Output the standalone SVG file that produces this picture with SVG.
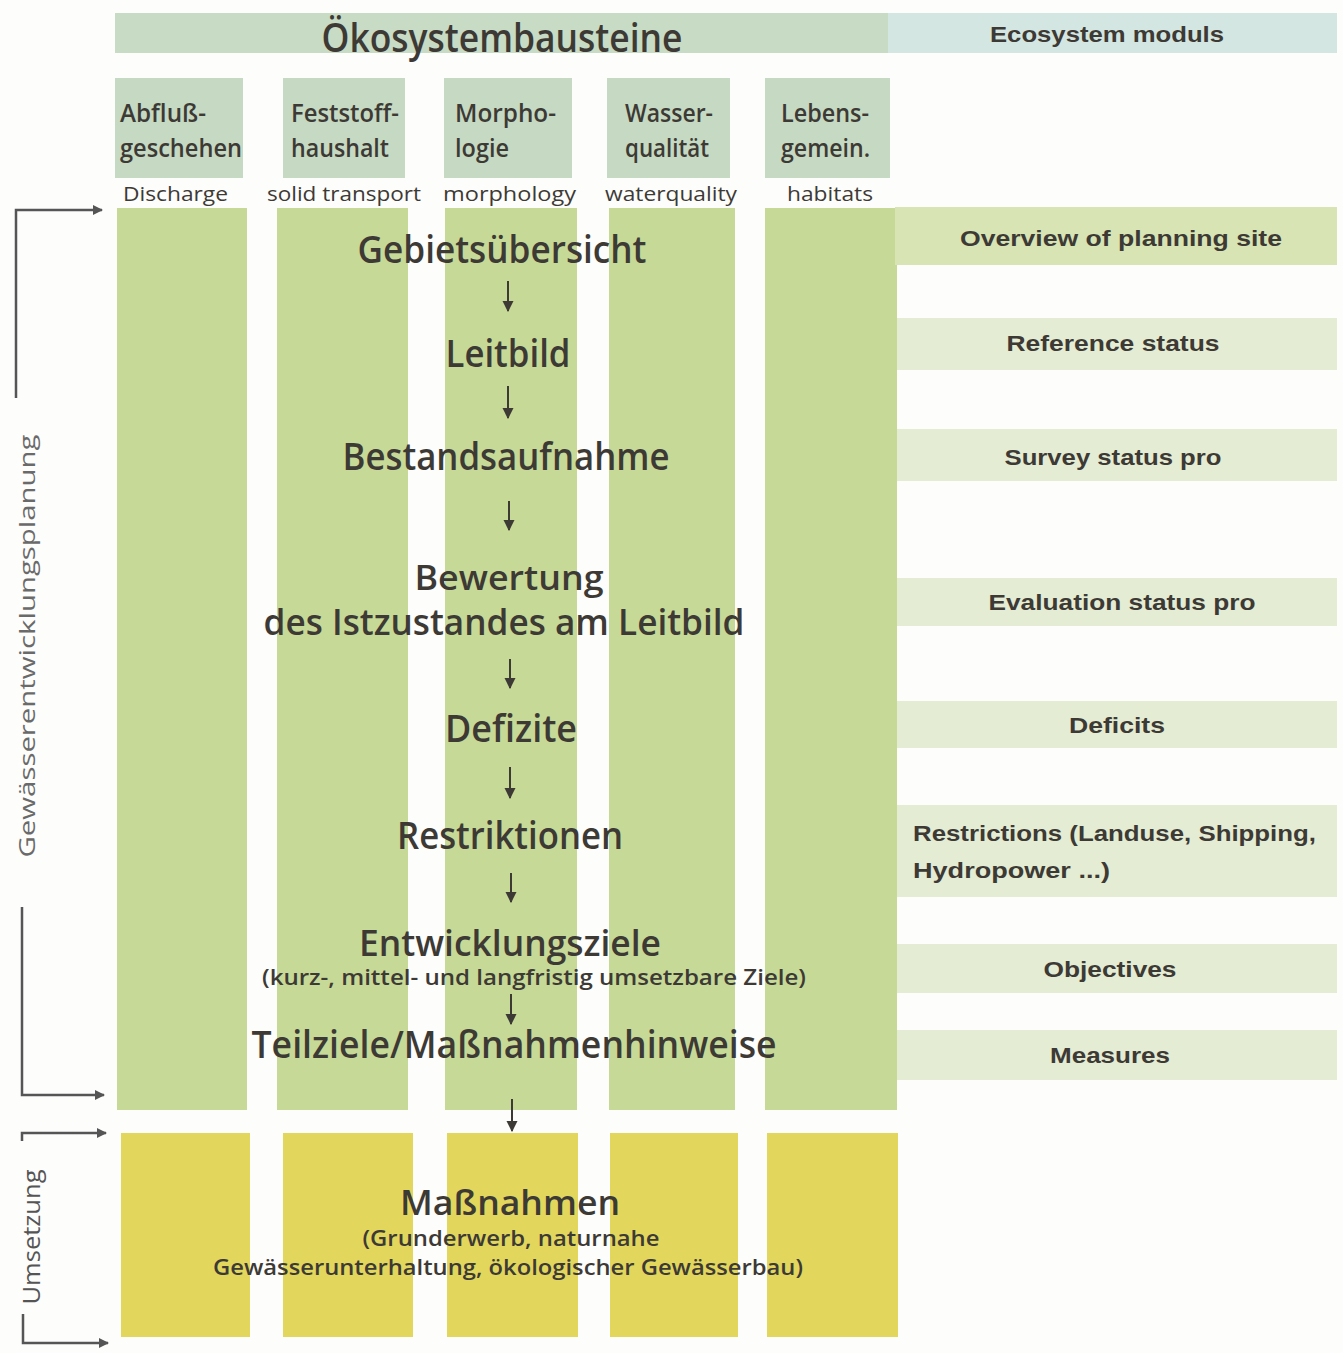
<svg xmlns="http://www.w3.org/2000/svg" width="1343" height="1353" viewBox="0 0 1343 1353">
  <defs>
    <!-- arrowheads drawn along +x, rotated with the line -->
    <marker id="down" viewBox="0 0 10 10" refX="9" refY="5" markerWidth="11" markerHeight="12" markerUnits="userSpaceOnUse" orient="auto">
      <path d="M0,0 L10,5 L0,10 Z" fill="#3d3a35"/>
    </marker>
    <marker id="right" viewBox="0 0 10 10" refX="9" refY="5" markerWidth="13" markerHeight="10" markerUnits="userSpaceOnUse" orient="auto">
      <path d="M0,0 L10,5 L0,10 Z" fill="#555"/>
    </marker>
    <style>
      .hdr { fill: #c8dbc5; }
      .hdr-en { fill: #d4e6e1; }
      .colhead { fill: #c6d9c2; }
      .col { fill: #c7d996; }
      .impl { fill: #e2d75c; }
      .band { fill: #e4ecd3; }
      .band-main { fill: #d8e4b3; }
      text { fill: #3d3a35; font-family: "Open Sans", "Noto Sans", sans-serif; }
      .title { font-size: 40px; font-weight: 600; }
      .colname { font-size: 26px; font-weight: 600; }
      .sub { font-size: 20px; }
      .step { font-size: 38px; font-weight: 600; text-anchor: middle; }
      .note { font-size: 22px; font-weight: 600; text-anchor: middle; }
      .en { font-family: "Liberation Sans", Arial, sans-serif; font-weight: bold; font-size: 22px; }
      .mid { text-anchor: middle; }
      .side { font-size: 22px; fill: #6a6a6a; text-anchor: middle; }
      .flow { stroke: #3d3a35; stroke-width: 2; fill: none; marker-end: url(#down); }
      .bracket-arrow { stroke: #555; stroke-width: 2.5; fill: none; marker-end: url(#right); }
    </style>
  </defs>

  <rect width="1343" height="1353" fill="#fdfdfc"/>

  <!-- Header bar -->
  <g id="header">
    <rect class="hdr" x="115" y="13" width="775" height="40"/>
    <rect class="hdr-en" x="888" y="13" width="449" height="40"/>
    <text class="title mid" x="502" y="52" textLength="361" lengthAdjust="spacingAndGlyphs">Ökosystembausteine</text>
    <text class="en mid" x="1107" y="42" textLength="234" lengthAdjust="spacingAndGlyphs">Ecosystem moduls</text>
  </g>

  <!-- Module columns -->
  <g id="col-abfluss">
    <rect class="colhead" x="115" y="78" width="128" height="100"/>
    <text class="colname" x="120" y="122" textLength="86" lengthAdjust="spacingAndGlyphs">Abfluß-</text>
    <text class="colname" x="120" y="157" textLength="122" lengthAdjust="spacingAndGlyphs">geschehen</text>
    <text class="sub" x="123" y="201" textLength="105" lengthAdjust="spacingAndGlyphs">Discharge</text>
    <rect class="col" x="117" y="208" width="130" height="902"/>
    <rect class="impl" x="121" y="1133" width="129" height="204"/>
  </g>
  <g id="col-feststoff">
    <rect class="colhead" x="283" y="78" width="122" height="100"/>
    <text class="colname" x="291" y="122" textLength="108" lengthAdjust="spacingAndGlyphs">Feststoff-</text>
    <text class="colname" x="291" y="157" textLength="98" lengthAdjust="spacingAndGlyphs">haushalt</text>
    <text class="sub" x="267" y="201" textLength="154" lengthAdjust="spacingAndGlyphs">solid transport</text>
    <rect class="col" x="277" y="208" width="131" height="902"/>
    <rect class="impl" x="283" y="1133" width="130" height="204"/>
  </g>
  <g id="col-morphologie">
    <rect class="colhead" x="444" y="78" width="128" height="100"/>
    <text class="colname" x="455" y="122" textLength="101" lengthAdjust="spacingAndGlyphs">Morpho-</text>
    <text class="colname" x="455" y="157" textLength="54" lengthAdjust="spacingAndGlyphs">logie</text>
    <text class="sub" x="443" y="201" textLength="133" lengthAdjust="spacingAndGlyphs">morphology</text>
    <rect class="col" x="445" y="208" width="132" height="902"/>
    <rect class="impl" x="447" y="1133" width="131" height="204"/>
  </g>
  <g id="col-wasserqualitaet">
    <rect class="colhead" x="607" y="78" width="123" height="100"/>
    <text class="colname" x="625" y="122" textLength="88" lengthAdjust="spacingAndGlyphs">Wasser-</text>
    <text class="colname" x="625" y="157" textLength="84" lengthAdjust="spacingAndGlyphs">qualität</text>
    <text class="sub" x="605" y="201" textLength="132" lengthAdjust="spacingAndGlyphs">waterquality</text>
    <rect class="col" x="609" y="208" width="126" height="902"/>
    <rect class="impl" x="610" y="1133" width="128" height="204"/>
  </g>
  <g id="col-lebensgemeinschaft">
    <rect class="colhead" x="765" y="78" width="125" height="100"/>
    <text class="colname" x="781" y="122" textLength="88" lengthAdjust="spacingAndGlyphs">Lebens-</text>
    <text class="colname" x="781" y="157" textLength="89" lengthAdjust="spacingAndGlyphs">gemein.</text>
    <text class="sub" x="787" y="201" textLength="86" lengthAdjust="spacingAndGlyphs">habitats</text>
    <rect class="col" x="765" y="208" width="132" height="902"/>
    <rect class="impl" x="767" y="1133" width="131" height="204"/>
  </g>

  <!-- English step labels on the right -->
  <g id="en-overview">
    <rect class="band-main" x="895" y="207" width="442" height="58"/>
    <text class="en mid" x="1121" y="246" textLength="322" lengthAdjust="spacingAndGlyphs">Overview of planning site</text>
  </g>
  <g id="en-reference">
    <rect class="band" x="897" y="318" width="440" height="52"/>
    <text class="en mid" x="1113" y="351" textLength="213" lengthAdjust="spacingAndGlyphs">Reference status</text>
  </g>
  <g id="en-survey">
    <rect class="band" x="897" y="429" width="440" height="52"/>
    <text class="en mid" x="1113" y="465" textLength="217" lengthAdjust="spacingAndGlyphs">Survey status pro</text>
  </g>
  <g id="en-evaluation">
    <rect class="band" x="897" y="578" width="440" height="48"/>
    <text class="en mid" x="1122" y="610" textLength="267" lengthAdjust="spacingAndGlyphs">Evaluation status pro</text>
  </g>
  <g id="en-deficits">
    <rect class="band" x="897" y="701" width="440" height="47"/>
    <text class="en mid" x="1117" y="733" textLength="96" lengthAdjust="spacingAndGlyphs">Deficits</text>
  </g>
  <g id="en-restrictions">
    <rect class="band" x="897" y="805" width="440" height="92"/>
    <text class="en" x="913" y="841" textLength="403" lengthAdjust="spacingAndGlyphs">Restrictions (Landuse, Shipping,</text>
    <text class="en" x="913" y="878" textLength="197" lengthAdjust="spacingAndGlyphs">Hydropower ...)</text>
  </g>
  <g id="en-objectives">
    <rect class="band" x="897" y="944" width="440" height="49"/>
    <text class="en mid" x="1110" y="977" textLength="133" lengthAdjust="spacingAndGlyphs">Objectives</text>
  </g>
  <g id="en-measures">
    <rect class="band" x="897" y="1030" width="440" height="50"/>
    <text class="en mid" x="1110" y="1063" textLength="120" lengthAdjust="spacingAndGlyphs">Measures</text>
  </g>

  <!-- Planning steps -->
  <g id="step-gebietsuebersicht">
    <text class="step" x="502" y="263" textLength="289" lengthAdjust="spacingAndGlyphs">Gebietsübersicht</text>
  </g>
  <g id="step-leitbild">
    <text class="step" x="508" y="367" textLength="125" lengthAdjust="spacingAndGlyphs">Leitbild</text>
  </g>
  <g id="step-bestandsaufnahme">
    <text class="step" x="506" y="470" textLength="327" lengthAdjust="spacingAndGlyphs">Bestandsaufnahme</text>
  </g>
  <g id="step-bewertung">
    <text class="step" x="509" y="590" style="font-size:35px" textLength="189" lengthAdjust="spacingAndGlyphs">Bewertung</text>
    <text class="step" x="504" y="635" style="font-size:36px" textLength="481" lengthAdjust="spacingAndGlyphs">des Istzustandes am Leitbild</text>
  </g>
  <g id="step-defizite">
    <text class="step" x="511" y="742" textLength="132" lengthAdjust="spacingAndGlyphs">Defizite</text>
  </g>
  <g id="step-restriktionen">
    <text class="step" x="510" y="849" textLength="226" lengthAdjust="spacingAndGlyphs">Restriktionen</text>
  </g>
  <g id="step-entwicklungsziele">
    <text class="step" x="510" y="956" style="font-size:36px" textLength="302" lengthAdjust="spacingAndGlyphs">Entwicklungsziele</text>
    <text class="note" x="534" y="985" style="font-size:21px" textLength="544" lengthAdjust="spacingAndGlyphs">(kurz-, mittel- und langfristig umsetzbare Ziele)</text>
  </g>
  <g id="step-teilziele">
    <text class="step" x="514" y="1058" textLength="525" lengthAdjust="spacingAndGlyphs">Teilziele/Maßnahmenhinweise</text>
  </g>
  <g id="step-massnahmen">
    <text class="step" x="510" y="1215" style="font-size:35px" textLength="220" lengthAdjust="spacingAndGlyphs">Maßnahmen</text>
    <text class="note" x="511" y="1246" textLength="297" lengthAdjust="spacingAndGlyphs">(Grunderwerb, naturnahe</text>
    <text class="note" x="508" y="1275" textLength="590" lengthAdjust="spacingAndGlyphs">Gewässerunterhaltung, ökologischer Gewässerbau)</text>
  </g>

  <!-- Phase brackets on the left -->
  <g id="phase-planung">
    <path class="bracket-arrow" d="M16,398 V210 H102"/>
    <path class="bracket-arrow" d="M22,907 V1095 H104"/>
    <text class="side" transform="translate(35,646) rotate(-90)" textLength="423" lengthAdjust="spacingAndGlyphs">Gewässerentwicklungsplanung</text>
  </g>
  <g id="phase-umsetzung">
    <path class="bracket-arrow" d="M22,1141 V1133 H106"/>
    <path class="bracket-arrow" d="M23,1314 V1343 H108"/>
    <text class="side" style="fill:#555;font-size:24px" transform="translate(40,1237) rotate(-90)" textLength="135" lengthAdjust="spacingAndGlyphs">Umsetzung</text>
  </g>

  <!-- Flow arrows between steps -->
  <g id="connectors">
    <line class="flow" x1="508" y1="281" x2="508" y2="311"/>
    <line class="flow" x1="508" y1="386" x2="508" y2="418"/>
    <line class="flow" x1="509" y1="501" x2="509" y2="530"/>
    <line class="flow" x1="510" y1="659" x2="510" y2="688"/>
    <line class="flow" x1="510" y1="767" x2="510" y2="798"/>
    <line class="flow" x1="511" y1="873" x2="511" y2="902"/>
    <line class="flow" x1="511" y1="994" x2="511" y2="1024"/>
    <line class="flow" x1="512" y1="1099" x2="512" y2="1131"/>
  </g>
</svg>
